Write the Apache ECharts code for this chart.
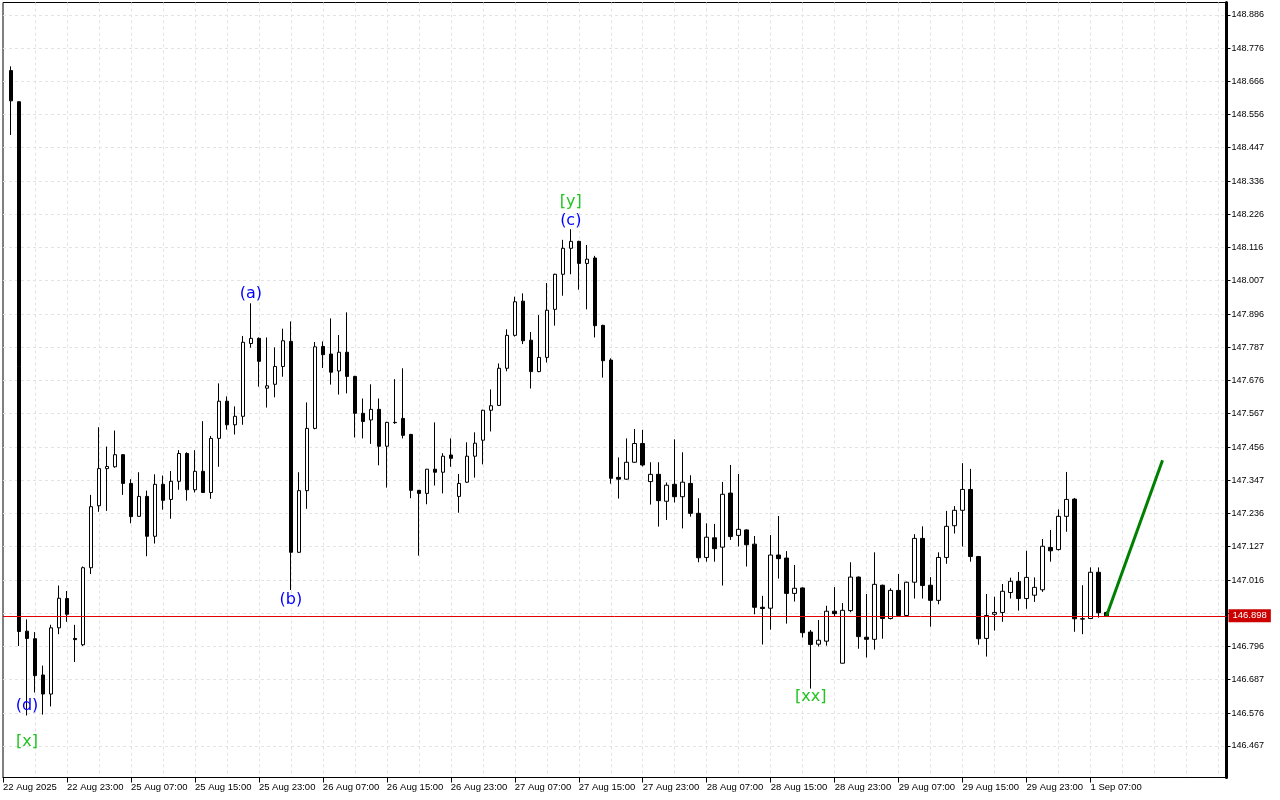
<!DOCTYPE html>
<html>
<head>
<meta charset="utf-8">
<script src="https://cdn.jsdelivr.net/npm/echarts@6/dist/echarts.min.js"></script>
<style>html,body{margin:0;padding:0;background:#fff;}#c{width:1280px;height:800px;}</style>
</head>
<body>
<div id="c"></div>
<script>
// ---- DATA (hourly bars) ----
const startLabel = '22 Aug 2025';
const open = [148.702,148.599,146.847,146.822,146.702,146.639,146.858,146.955,146.823,146.802,
147.057,147.262,147.385,147.391,147.431,147.336,147.227,147.293,147.161,147.333,
147.283,147.343,147.435,147.315,147.376,147.306,147.485,147.608,147.530,147.558,
147.799,147.816,147.651,147.664,147.723,147.806,147.108,147.312,147.518,147.789,
147.764,147.708,147.770,147.690,147.568,147.546,147.581,147.459,147.538,147.551,
147.498,147.313,147.303,147.383,147.373,147.430,147.293,147.340,147.426,147.479,
147.578,147.594,147.717,147.826,147.939,147.810,147.706,147.753,147.912,148.028,
148.114,148.137,148.064,148.082,147.859,147.744,147.356,147.350,147.406,147.468,
147.342,147.366,147.277,147.333,147.292,147.336,147.237,147.091,147.156,147.125,
147.304,147.164,147.182,147.135,146.926,146.923,147.099,147.089,146.972,146.990,
146.844,146.804,146.814,146.913,146.741,146.915,147.026,146.827,146.820,146.999,
146.889,146.982,146.899,147.009,147.154,146.999,146.949,147.091,147.196,147.247,
147.316,147.094,146.823,146.903,146.909,146.975,147.012,146.955,146.966,146.984,
147.124,147.117,147.227,147.284,146.888,146.889,147.042,146.909];
const high = [148.716,148.600,146.886,146.844,146.733,146.868,146.998,146.980,146.868,147.061,
147.298,147.522,147.458,147.511,147.433,147.350,147.373,147.312,147.366,147.362,
147.377,147.446,147.439,147.446,147.542,147.493,147.667,147.624,147.591,147.824,
147.932,147.819,147.819,147.786,147.848,147.872,147.373,147.604,147.804,147.806,
147.882,147.827,147.902,147.692,147.617,147.664,147.617,147.540,147.681,147.717,
147.500,147.314,147.384,147.538,147.436,147.485,147.367,147.472,147.505,147.580,
147.647,147.733,147.846,147.954,147.965,147.837,147.893,147.999,148.030,148.142,
148.177,148.139,148.125,148.089,147.861,147.750,147.422,147.485,147.516,147.513,
147.406,147.406,147.339,147.482,147.439,147.363,147.287,147.204,147.202,147.341,
147.397,147.367,147.184,147.162,146.964,147.165,147.228,147.112,147.066,146.992,
146.851,146.884,146.931,146.993,146.940,147.075,147.028,146.970,147.108,147.001,
146.989,147.036,147.011,147.168,147.194,147.026,147.108,147.245,147.261,147.403,
147.384,147.096,146.970,146.961,147.003,147.024,147.043,147.113,147.025,147.152,
147.182,147.250,147.374,147.288,146.999,147.058,147.058,146.912];
const low = [148.489,146.798,146.568,146.644,146.571,146.598,146.837,146.878,146.745,146.798,
147.036,147.242,147.245,147.388,147.298,147.204,147.226,147.095,147.137,147.249,
147.219,147.315,147.279,147.306,147.305,147.285,147.391,147.514,147.498,147.530,
147.785,147.656,147.587,147.621,147.689,146.983,147.106,147.252,147.515,147.718,
147.663,147.630,147.634,147.488,147.485,147.467,147.396,147.322,147.533,147.485,
147.287,147.097,147.267,147.329,147.303,147.391,147.239,147.338,147.355,147.399,
147.508,147.592,147.707,147.822,147.797,147.650,147.704,147.736,147.858,147.957,
148.028,147.977,147.912,147.819,147.686,147.335,147.286,147.348,147.404,147.392,
147.266,147.193,147.215,147.273,147.187,147.226,147.075,147.077,147.077,146.998,
147.149,147.127,147.061,146.903,146.803,146.852,147.021,146.872,146.945,146.826,
146.657,146.796,146.799,146.896,146.740,146.910,146.789,146.760,146.786,146.822,
146.886,146.898,146.897,146.955,146.955,146.862,146.936,147.070,147.170,147.127,
147.077,146.802,146.763,146.849,146.878,146.955,146.915,146.921,146.944,146.977,
147.077,147.114,147.176,146.845,146.837,146.887,146.892,146.896];
const close = [148.602,146.846,146.823,146.700,146.639,146.858,146.956,146.903,146.819,147.057,
147.259,147.385,147.392,147.431,147.336,147.226,147.293,147.161,147.333,147.280,
147.343,147.435,147.315,147.376,147.306,147.485,147.608,147.530,147.558,147.803,
147.816,147.740,147.659,147.723,147.808,147.108,147.312,147.518,147.788,147.762,
147.704,147.770,147.690,147.568,147.541,147.581,147.459,147.538,147.537,147.495,
147.313,147.303,147.383,147.373,147.426,147.419,147.336,147.426,147.469,147.578,
147.593,147.717,147.826,147.937,147.808,147.706,147.753,147.909,148.028,148.114,
148.137,148.064,148.078,147.858,147.742,147.353,147.350,147.406,147.468,147.397,
147.366,147.279,147.330,147.292,147.340,147.237,147.090,147.158,147.120,147.300,
147.160,147.184,147.133,146.926,146.922,147.099,147.087,146.972,146.989,146.842,
146.803,146.817,146.913,146.905,146.916,147.026,146.829,146.820,147.002,146.889,
146.982,146.899,147.009,147.154,146.998,146.949,147.091,147.194,147.247,147.316,
147.094,146.822,146.899,146.909,146.979,147.012,146.955,147.025,146.992,147.128,
147.113,147.227,147.283,146.888,146.887,147.042,146.908,146.898];
const yTicks = [146.467,146.576,146.687,146.796,146.906,147.016,147.127,147.236,147.347,147.456,
147.567,147.676,147.787,147.896,148.007,148.116,148.226,148.336,148.447,148.556,148.666,148.776,148.886];
const lastPrice = 146.898;
// forecast arrow (bar index, price)
const forecastBar = [137, 144];
const forecastPrice = [146.898, 147.413];
// wave labels (bar index, price, text)
const waveBar =   [30, 35, 70, 70, 2, 2, 100];
const wavePrice = [147.963, 146.950, 148.204, 148.267, 146.599, 146.480, 146.629];
const waveText =  ['(a)', '(b)', '(c)', '[y]', '(d)', '[x]', '[xx]'];
const waveColor = ['#0000ff','#0000ff','#0000ff','#22c422','#0000ff','#22c422','#22c422'];

// ---- category axis: hourly times, weekends skipped ----
const MON = ['Jan','Feb','Mar','Apr','May','Jun','Jul','Aug','Sep','Oct','Nov','Dec'];
const totalSlots = 154;      // one partial bar before data + bars + empty future space
const categories = [];
let t = Date.UTC(2025, 7, 22, 15);
while (categories.length < totalSlots) {
  const d = new Date(t);
  const wd = d.getUTCDay();
  if (wd !== 0 && wd !== 6) {
    const hh = String(d.getUTCHours()).padStart(2, '0');
    categories.push(d.getUTCDate() + ' ' + MON[d.getUTCMonth()] + ' ' + hh + ':00');
  }
  t += 3600000;
}
const OFF = 1; // first slot is the partially hidden bar
const lastBarSlot = OFF + open.length - 1;

const candleData = categories.map((c, k) => {
  const i = k - OFF;
  if (i < 0 || i >= open.length) return '-';
  return [open[i], close[i], low[i], high[i]];
});
const forecastData = forecastBar.map((b, j) => [categories[b + OFF], forecastPrice[j]]);
const waveData = waveBar.map((b, j) => ({
  value: [categories[b + OFF], wavePrice[j]],
  label: { formatter: waveText[j], color: waveColor[j] }
}));

const labelShown = (i) => i % 8 === 0 && i <= lastBarSlot;
const gridDash = { type: [3, 3], color: '#e3e3e3', width: 1 };

const chart = echarts.init(document.getElementById('c'), null, { renderer: 'canvas' });
chart.setOption({
  animation: false,
  backgroundColor: '#ffffff',
  textStyle: { fontFamily: 'Liberation Sans' },
  grid: { left: 2.5, right: 53.5, top: 2.5, bottom: 22.5, show: true, borderColor: '#000', borderWidth: 1, backgroundColor: '#fff' },
  xAxis: {
    type: 'category', data: categories, boundaryGap: false,
    axisLine: { show: true, lineStyle: { color: '#000', width: 1 } },
    axisTick: { show: true, interval: labelShown, length: 5, lineStyle: { color: '#000' } },
    axisLabel: {
      interval: labelShown, align: 'left', color: '#000', fontSize: 9.5, margin: 5,
      fontFamily: 'Liberation Sans',
      formatter: (v, i) => (i === 0 ? startLabel : v)
    },
    splitLine: { show: true, interval: (i) => i % 4 === 0 && i > 0, lineStyle: gridDash }
  },
  yAxis: {
    type: 'value', position: 'right', min: 146.3628, max: 148.9274, scale: true,
    axisLine: { show: true, lineStyle: { color: '#000', width: 3 } },
    axisTick: { show: true, customValues: yTicks, length: 4, lineStyle: { color: '#000' } },
    axisLabel: { customValues: yTicks, formatter: (v) => v.toFixed(3), color: '#000', fontSize: 9, margin: 5, fontFamily: 'Liberation Sans' },
    splitLine: { show: true, lineStyle: gridDash }
  },
  series: [
    {
      type: 'candlestick', data: candleData, barWidth: 4, z: 3,
      itemStyle: { color: '#ffffff', color0: '#000000', borderColor: '#000000', borderColor0: '#000000', borderColorDoji: '#000000', borderWidth: 1 }
    },
    {
      type: 'line', data: [], z: 2, silent: true,
      markLine: {
        symbol: 'none', silent: true, animation: false, precision: 3,
        lineStyle: { color: '#e00000', type: 'solid', width: 1, opacity: 1 },
        label: { position: 'end', formatter: () => lastPrice.toFixed(3), color: '#fff', backgroundColor: '#cc0000', padding: [2, 4, 1, 4], fontSize: 9.5, distance: 2, fontFamily: 'Liberation Sans' },
        data: [{ yAxis: lastPrice, lineStyle: { color: '#e00000', type: 'solid', width: 1 } }]
      }
    },
    {
      type: 'line', data: forecastData, symbol: 'none', z: 4,
      lineStyle: { color: '#008000', width: 3 }
    },
    {
      type: 'scatter', data: waveData, symbolSize: 1, z: 5, silent: true,
      itemStyle: { color: 'rgba(0,0,0,0)', opacity: 1 },
      label: { show: true, position: 'inside', fontSize: 16, fontFamily: 'DejaVu Sans', opacity: 1 }
    }
  ]
});
</script>
</body>
</html>
